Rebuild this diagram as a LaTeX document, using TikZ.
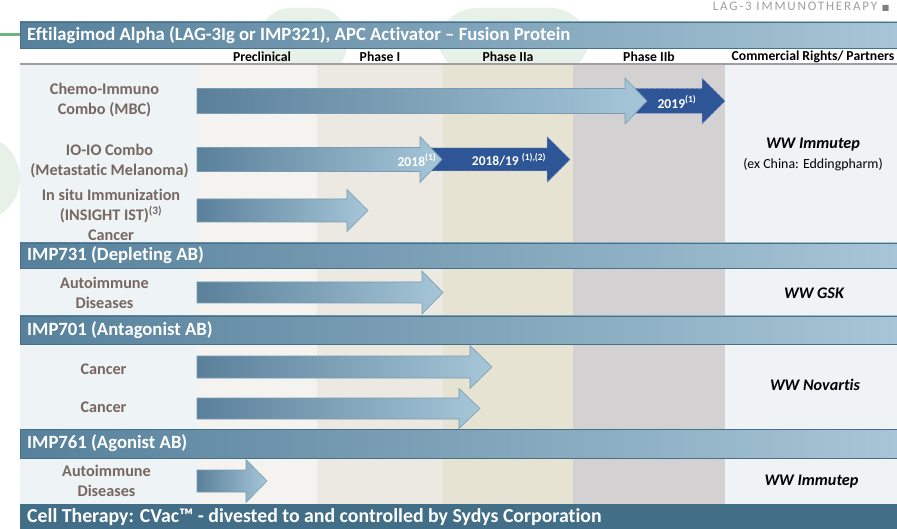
\documentclass[tikz,border=0pt]{standalone}
\usepackage{fontspec}
\setmainfont{Carlito}[Ligatures={TeX,NoCommon}]
\newfontfamily\symfont{DejaVu Sans}
\newfontfamily\spacedfont[LetterSpace=14]{Carlito}
\usepackage{tikz}
\usetikzlibrary{calc}
\usepackage{xcolor}
\definecolor{bandL}{RGB}{86,128,155}
\definecolor{bandR}{RGB}{167,197,214}
\definecolor{bandEdge}{RGB}{72,112,138}
\definecolor{bandDark}{RGB}{66,110,135}
\definecolor{arrL}{RGB}{90,128,154}
\definecolor{arrR}{RGB}{166,198,216}
\definecolor{arrEdge}{RGB}{122,156,178}
\definecolor{arrDark}{RGB}{46,85,150}
\definecolor{lblgray}{RGB}{118,103,95}
\definecolor{colLbl}{RGB}{238,243,246}
\definecolor{colPre}{RGB}{244,243,239}
\definecolor{colPone}{RGB}{236,233,226}
\definecolor{colPtwoa}{RGB}{231,227,211}
\definecolor{colPtwob}{RGB}{211,209,210}
\definecolor{colCom}{RGB}{239,243,246}
\definecolor{wmgreen}{RGB}{231,241,231}
\definecolor{linegreen}{RGB}{110,180,125}

\begin{document}
\begin{tikzpicture}[x=1pt,y=-1pt,
  bandbar/.style={draw=bandEdge,line width=0.8pt,left color=bandL,right color=bandR},
  arrbar/.style={draw=arrEdge,line width=0.6pt,left color=arrL,right color=arrR},
  arrdark/.style={fill=arrDark,draw=arrDark!55!white,densely dashed,line width=0.5pt},
  bandtxt/.style={anchor=west,text=white,inner sep=0,font=\fontsize{18.7}{22}\selectfont\bfseries},
  rowlbl/.style={align=center,text=lblgray,inner sep=0,font=\fontsize{16.2}{20}\selectfont\bfseries},
  colhd/.style={inner sep=0,font=\fontsize{13.7}{15}\selectfont\bfseries},
  partner/.style={inner sep=0,font=\fontsize{16.2}{19}\selectfont\bfseries\itshape},
  yeartxt/.style={text=white,inner sep=0,font=\fontsize{13.6}{15}\selectfont\bfseries}]
  \useasboundingbox (0,0) rectangle (897,529);
  \clip (0,0) rectangle (897,529);
  % watermark
  \fill[wmgreen,rounded corners=30pt] (260,8) rectangle (347,75);
  \fill[wmgreen,rounded corners=40pt] (437,8) rectangle (590,75);
  \fill[wmgreen] (-20,178) ellipse (40 and 42);
  \draw[linegreen,line width=3pt] (0,34.5) -- (20,34.5);
  \node[anchor=base east,text=gray!75,font=\spacedfont\fontsize{13}{15}\selectfont] (tagline) at (893,11) {LAG-3 IMMUNOTHERAPY {\symfont\fontsize{8}{9}\selectfont\textcolor{gray}{■}}};
  % columns
  \foreach \xa/\xb/\c in {20/197/colLbl,197/317/colPre,317/443/colPone,443/573/colPtwoa,573/725/colPtwob,725/897/colCom}{
    \fill[\c] (\xa,64) rectangle (\xb,504);
  }
  \draw[gray!75,line width=1.5pt] (20,64) -- (897,64);
  \foreach \x/\t [count=\i] in {262/Preclinical,380/Phase I,508/Phase IIa,649/Phase IIb,813/{Commercial Rights/ Partners}}{
    \node[colhd] (colhd\i) at (\x,57) {\t};
  }
  % section bands
  \path[bandbar] (20,22) rectangle (897,48);
  \path[bandbar] (20,243) rectangle (897,268);
  \path[bandbar] (20,316) rectangle (897,344);
  \path[bandbar] (20,429) rectangle (897,458);
  \fill[bandDark] (20,504) rectangle (897,529);
  \node[bandtxt] (bandEfti) at (27,35) {Eftilagimod Alpha (LAG-3Ig or IMP321), APC Activator – Fusion Protein};
  \node[bandtxt] (bandSeven31) at (27,255.5) {IMP731 (Depleting AB)};
  \node[bandtxt] (bandSeven01) at (27,330) {IMP701 (Antagonist AB)};
  \node[bandtxt] (bandSeven61) at (27,443.5) {IMP761 (Agonist AB)};
  \node[bandtxt,font=\fontsize{19.8}{22}\selectfont\bfseries] (bandCvac) at (27,517) {Cell Therapy: CVac™ - divested to and controlled by Sydys Corporation};
  % dark arrows (later phases)
  \path[arrdark] (633,88.5) -- (702,88.5) -- (702,78) -- (725,101) -- (702,124) -- (702,113.5) -- (633,113.5) -- cycle;
  \path[arrdark] (430,148) -- (547,148) -- (547,136.5) -- (570,159.5) -- (547,182.5) -- (547,171) -- (430,171) -- cycle;
  % progress arrows
  \foreach \xa/\xb/\xt/\yc/\hb/\hh in {197/625/647/101/12.5/23,197/420/442/159.5/12/23,197/347/368/210.5/11.5/21,197/422/443/292.5/10.5/21.5,197/470/492/367/11/21.5,197/459/480/408.5/10.5/20,197/246/267/481/11/21.5}{
    \path[arrbar] (\xa,\yc-\hb) -- (\xb,\yc-\hb) -- (\xb,\yc-\hh) -- (\xt,\yc) -- (\xb,\yc+\hh) -- (\xb,\yc+\hb) -- (\xa,\yc+\hb) -- cycle;
  }
  \node[yeartxt] (yrChemo) at (677,102) {2019\textsuperscript{(1)}};
  \node[yeartxt] (yrIOa) at (417,160) {2018\textsuperscript{(1)}};
  \node[yeartxt,font=\fontsize{13.5}{15}\selectfont\bfseries] (yrIOb) at (509,159.5) {2018/19 \textsuperscript{(1),(2)}};
  % row labels
  \node[rowlbl] (lblChemo) at (104.5,100.5) {Chemo-Immuno\\Combo (MBC)};
  \node[rowlbl] (lblIO) at (109.5,161) {IO-IO Combo\\(Metastatic Melanoma)};
  \node[rowlbl] (lblSitu) at (111,215) {In situ Immunization\\(INSIGHT IST)\textsuperscript{(3)}\\Cancer};
  \node[rowlbl] (lblAutoA) at (104.5,292.5) {Autoimmune\\Diseases};
  \node[rowlbl] (lblCancerA) at (103.5,369) {Cancer};
  \node[rowlbl] (lblCancerB) at (103.5,407) {Cancer};
  \node[rowlbl] (lblAutoB) at (106.5,481) {Autoimmune\\Diseases};
  % partners
  \node[partner] (ptImmutepA) at (813,145) {WW Immutep};
  \node[inner sep=0,font=\fontsize{13.9}{16}\selectfont] (ptChina) at (813,165) {(ex China: Eddingpharm)};
  \node[partner] (ptGsk) at (814,293) {WW GSK};
  \node[partner] (ptNovartis) at (815,385) {WW Novartis};
  \node[partner] (ptImmutepB) at (811.5,482) {WW Immutep};
\end{tikzpicture}
\end{document}
